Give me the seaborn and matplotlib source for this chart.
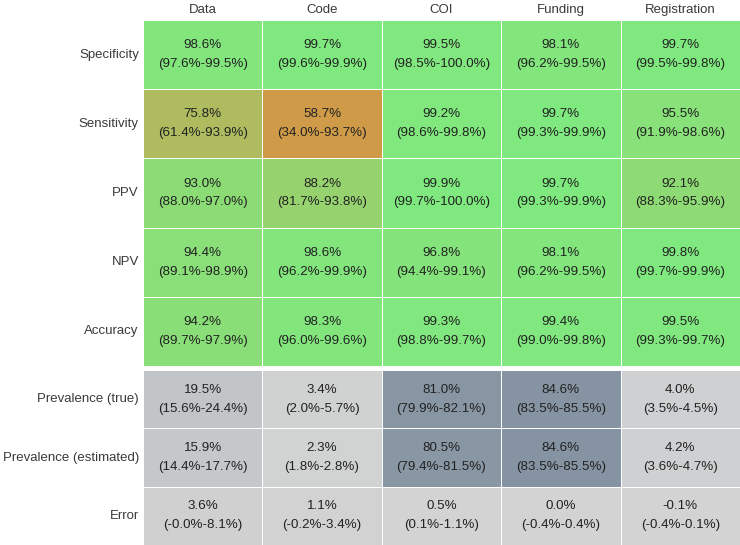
import matplotlib
matplotlib.use("Agg")
import matplotlib.pyplot as plt
import numpy as np
import pandas as pd
import seaborn as sns
from matplotlib.colors import LinearSegmentedColormap

# Columns and rows
columns = ["Data", "Code", "COI", "Funding", "Registration"]
perf_rows = ["Specificity", "Sensitivity", "PPV", "NPV", "Accuracy"]
prev_rows = ["Prevalence (true)", "Prevalence (estimated)", "Error"]

# Performance metrics (%): estimate, lower, upper
perf_est = [[98.6, 99.7, 99.5, 98.1, 99.7],
            [75.8, 58.7, 99.2, 99.7, 95.5],
            [93.0, 88.2, 99.9, 99.7, 92.1],
            [94.4, 98.6, 96.8, 98.1, 99.8],
            [94.2, 98.3, 99.3, 99.4, 99.5]]
perf_lo = [[97.6, 99.6, 98.5, 96.2, 99.5],
           [61.4, 34.0, 98.6, 99.3, 91.9],
           [88.0, 81.7, 99.7, 99.3, 88.3],
           [89.1, 96.2, 94.4, 96.2, 99.7],
           [89.7, 96.0, 98.8, 99.0, 99.3]]
perf_hi = [[99.5, 99.9, 100.0, 99.5, 99.8],
           [93.9, 93.7, 99.8, 99.9, 98.6],
           [97.0, 93.8, 100.0, 99.9, 95.9],
           [98.9, 99.9, 99.1, 99.5, 99.9],
           [97.9, 99.6, 99.7, 99.8, 99.7]]

# Prevalence (%): estimate, lower, upper
prev_est = [[19.5, 3.4, 81.0, 84.6, 4.0],
            [15.9, 2.3, 80.5, 84.6, 4.2],
            [3.6, 1.1, 0.5, 0.0, -0.1]]
prev_lo = [[15.6, 2.0, 79.9, 83.5, 3.5],
           [14.4, 1.8, 79.4, 83.5, 3.6],
           [-0.0, -0.2, 0.1, -0.4, -0.4]]
prev_hi = [[24.4, 5.7, 82.1, 85.5, 4.5],
           [17.7, 2.8, 81.5, 85.5, 4.7],
           [8.1, 3.4, 1.1, 0.4, 0.1]]


def labels(est, lo, hi):
    return np.array([[f"{e:.1f}%\n({l:.1f}%-{h:.1f}%)"
                      for e, l, h in zip(re, rl, rh)]
                     for re, rl, rh in zip(est, lo, hi)])


sns.set_theme(style="white")
plt.rcParams["font.family"] = ["Liberation Sans", "DejaVu Sans"]

perf_cmap = LinearSegmentedColormap.from_list(
    "perf", [(224 / 255, 139 / 255, 60 / 255), (127 / 255, 233 / 255, 127 / 255)])
prev_cmap = LinearSegmentedColormap.from_list(
    "prev", ["lightgray", "lightslategray"])

fig = plt.figure(figsize=(7.4, 5.45), dpi=100)
ax1 = fig.add_axes([143 / 740, 1 - 366 / 545, 597 / 740, 346 / 545])
ax2 = fig.add_axes([143 / 740, 0, 597 / 740, 175 / 545])

annot_kws = {"fontsize": 9.6, "color": "#222222", "linespacing": 1.75}

sns.heatmap(pd.DataFrame(perf_est, index=perf_rows, columns=columns),
            annot=labels(perf_est, perf_lo, perf_hi), fmt="",
            cmap=perf_cmap, vmin=50, vmax=100, cbar=False,
            linewidths=0.6, linecolor="white", annot_kws=annot_kws, ax=ax1)
sns.heatmap(pd.DataFrame(prev_est, index=prev_rows, columns=columns),
            annot=labels(prev_est, prev_lo, prev_hi), fmt="",
            cmap=prev_cmap, vmin=0, vmax=100, cbar=False,
            linewidths=0.6, linecolor="white", annot_kws=annot_kws, ax=ax2)

ax1.xaxis.tick_top()
for ax in (ax1, ax2):
    ax.tick_params(length=0, labelsize=9.5, labelcolor="#3a3a3a", pad=3)
    ax.set_yticklabels(ax.get_yticklabels(), rotation=0)
    ax.set_xlabel("")
ax2.set_xticks([])

fig.savefig("out.png", dpi=100)
